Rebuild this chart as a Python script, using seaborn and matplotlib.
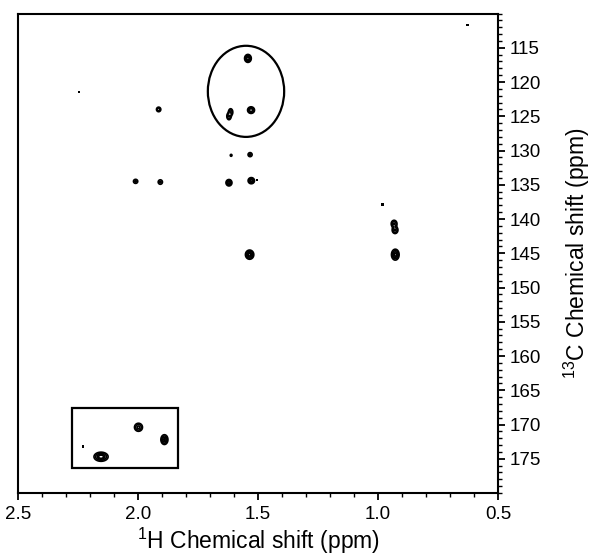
import numpy as np
import matplotlib
matplotlib.use("Agg")
import matplotlib.pyplot as plt
import seaborn as sns
from matplotlib.patches import Ellipse, Rectangle
from matplotlib.ticker import MultipleLocator, FormatStrFormatter

# ---- cross peaks (1H ppm, 13C ppm, relative intensity, line widths) ----
peak_h = [1.542, 1.621, 1.614, 1.529, 1.914, 1.612, 1.533, 2.010, 1.907,
          1.621, 1.528, 0.933, 0.929, 0.928, 1.535, 1.998, 1.890, 2.154]
peak_c = [116.55, 125.0, 124.4, 124.1, 124.0, 130.7, 130.6, 134.5, 134.6,
          134.7, 134.4, 140.7, 141.6, 145.2, 145.2, 170.4, 172.2, 174.7]
peak_amp = [1.0, 0.5, 0.5, 0.75, 0.4, 0.2, 0.3, 0.3, 0.3,
            0.8, 0.8, 0.55, 0.55, 0.9, 0.9, 0.6, 0.8, 1.0]
peak_wh = [0.0065, 0.005, 0.005, 0.0072, 0.0054, 0.003, 0.0057, 0.006, 0.006,
           0.0061, 0.0065, 0.0065, 0.0065, 0.0076, 0.0083, 0.0088, 0.0072, 0.0137]
peak_wc = [0.27, 0.28, 0.28, 0.24, 0.20, 0.12, 0.20, 0.20, 0.22,
           0.23, 0.22, 0.28, 0.28, 0.38, 0.32, 0.31, 0.35, 0.31]

# isolated noise specks
dot_h = [0.980, 0.627, 2.230, 2.245, 1.505]
dot_c = [137.85, 111.7, 173.2, 121.4, 134.3]
dot_size = [4, 3, 3, 2, 3]

# highlighted regions
ellipse_center = (1.550, 121.36)
ellipse_size = (0.318, 13.3)
rect_h = (2.277, 1.835)
rect_c = (167.6, 176.4)

x_ticks = [2.5, 2.0, 1.5, 1.0, 0.5]
y_ticks = [115, 120, 125, 130, 135, 140, 145, 150, 155, 160, 165, 170, 175]
contour_levels = [0.1, 0.25, 0.5, 0.75]

sns.set_theme(style="ticks")
plt.rcParams["font.family"] = ["Liberation Sans", "DejaVu Sans"]
plt.rcParams["mathtext.default"] = "regular"

fig = plt.figure(figsize=(5.9, 5.59), dpi=100)
ax = fig.add_axes([0.0305, 0.118, 0.8136, 0.8578])

h = np.linspace(0.5, 2.5, 1601)
c = np.linspace(110, 180, 1401)
H, C = np.meshgrid(h, c)
Z = np.zeros_like(H)
for h0, c0, a, wh, wc in zip(peak_h, peak_c, peak_amp, peak_wh, peak_wc):
    Z += a * np.exp(-0.5 * ((H - h0) / wh) ** 2 - 0.5 * ((C - c0) / wc) ** 2)
ax.contour(H, C, Z, levels=contour_levels, colors="black", linewidths=1.2)

sns.scatterplot(x=dot_h, y=dot_c, ax=ax, color="black", size=dot_size,
                sizes=(2, 4), marker="s", linewidth=0, legend=False)

ax.add_patch(Ellipse(ellipse_center, ellipse_size[0], ellipse_size[1],
                     fill=False, edgecolor="black", linewidth=1.6))
ax.add_patch(Rectangle((rect_h[0], rect_c[0]), rect_h[1] - rect_h[0],
                       rect_c[1] - rect_c[0], fill=False, edgecolor="black",
                       linewidth=1.6))

ax.set_xlim(2.5, 0.5)
ax.set_ylim(180, 110)
ax.set_xticks(x_ticks)
ax.xaxis.set_major_formatter(FormatStrFormatter("%.1f"))
ax.xaxis.set_minor_locator(MultipleLocator(0.1))
ax.set_yticks(y_ticks)
ax.yaxis.set_minor_locator(MultipleLocator(1))
ax.yaxis.tick_right()
ax.yaxis.set_label_position("right")

for s in ax.spines.values():
    s.set_linewidth(1.5)
    s.set_color("black")
ax.tick_params(axis="both", which="major", direction="out", length=5, width=1.3,
               color="black", labelsize=13.5, labelcolor="black")
ax.tick_params(axis="both", which="minor", direction="out", length=3, width=1.0,
               color="black")
ax.tick_params(axis="x", which="both", bottom=True, top=False, pad=4)
ax.tick_params(axis="y", which="both", right=True, left=False, pad=3)

ax.set_xlabel(r"$^{1}$H Chemical shift (ppm)", fontsize=16.5, color="black",
              labelpad=2)
ax.set_ylabel(r"$^{13}$C Chemical shift (ppm)", fontsize=16.5, color="black",
              labelpad=15)
ax.set_facecolor("white")
fig.patch.set_facecolor("white")

fig.savefig("out.png", dpi=100)
